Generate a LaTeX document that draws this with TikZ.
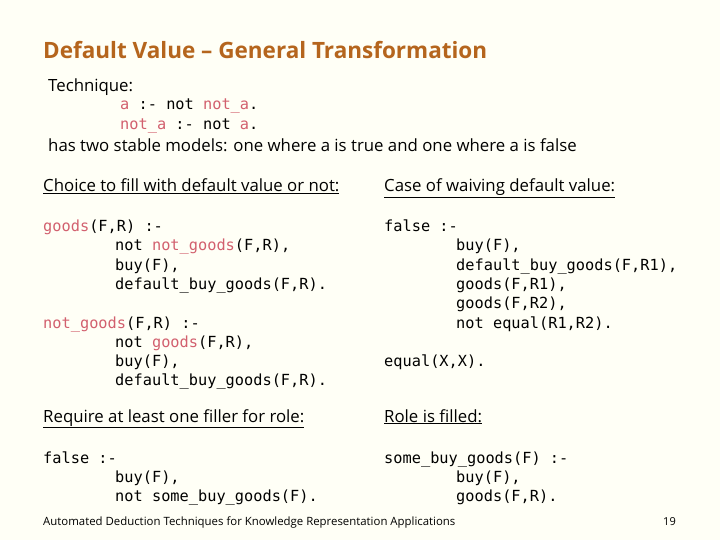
\documentclass[tikz,border=0pt]{standalone}
\usepackage{fontspec}
\setmainfont{Open Sans}
\setmonofont{DejaVu Sans Mono}
\begin{document}
\definecolor{bg}{HTML}{FFFFF6}
\definecolor{ttl}{HTML}{B5651D}
\definecolor{hl}{HTML}{D2606E}
\newcommand{\hi}[1]{\textcolor{hl}{#1}}
\begin{tikzpicture}[x=1pt,y=-1pt,
  txt/.style={anchor=base west,inner sep=0pt,font=\fontsize{16.8}{20}\selectfont},
  code/.style={anchor=base west,inner sep=0pt,font=\fontsize{15.3}{18}\ttfamily}]
\fill[bg] (0,0) rectangle (720,540);
\useasboundingbox (0,0) rectangle (720,540);
\node[anchor=base west,inner sep=0pt,text=ttl,font=\fontsize{22.5}{25}\selectfont\bfseries] (title) at (43,59) {Default Value – General Transformation};
\node[txt] (tech) at (48,92) {Technique:};
\node[code] (c1) at (120,110) {\hi{a} :- not \hi{not\_a}.};
\node[code] (c2) at (120,130) {\hi{not\_a} :- not \hi{a}.};
\node[txt] (has) at (48,152) {has two stable models: one where a is true and one where a is false};
\node[txt] (h1) at (43,192) {\underline{Choice to fill with default value or not:}};
\node[txt] (h2) at (384,192) {\underline{Case of waiving default value:}};
\node[code] (l1) at (43,232) {\hi{goods}(F,R) :-};
\node[code] (l2) at (115,251) {not \hi{not\_goods}(F,R),};
\node[code] (l3) at (115,270) {buy(F),};
\node[code] (l4) at (115,289) {default\_buy\_goods(F,R).};
\node[code] (m1) at (43,328) {\hi{not\_goods}(F,R) :-};
\node[code] (m2) at (115,347) {not \hi{goods}(F,R),};
\node[code] (m3) at (115,366) {buy(F),};
\node[code] (m4) at (115,385) {default\_buy\_goods(F,R).};
\node[code] (r1) at (384,232) {false :-};
\node[code] (r2) at (456,251) {buy(F),};
\node[code] (r3) at (456,270) {default\_buy\_goods(F,R1),};
\node[code] (r4) at (456,289) {goods(F,R1),};
\node[code] (r5) at (456,308) {goods(F,R2),};
\node[code] (r6) at (456,328) {not equal(R1,R2).};
\node[code] (r7) at (384,366) {equal(X,X).};
\node[txt] (h3) at (43,422) {\underline{Require at least one filler for role:}};
\node[txt] (h4) at (384,422) {\underline{Role is filled:}};
\node[code] (f1) at (43,463) {false :-};
\node[code] (f2) at (115,482) {buy(F),};
\node[code] (f3) at (115,501) {not some\_buy\_goods(F).};
\node[code] (s1) at (384,463) {some\_buy\_goods(F) :-};
\node[code] (s2) at (456,482) {buy(F),};
\node[code] (s3) at (456,501) {goods(F,R).};
\node[anchor=base west,inner sep=0pt,font=\fontsize{11.4}{13}\selectfont] (foot) at (43,525) {Automated Deduction Techniques for Knowledge Representation Applications};
\node[anchor=base west,inner sep=0pt,font=\fontsize{11}{13}\selectfont] (pg) at (663,525) {19};
\end{tikzpicture}
\end{document}
